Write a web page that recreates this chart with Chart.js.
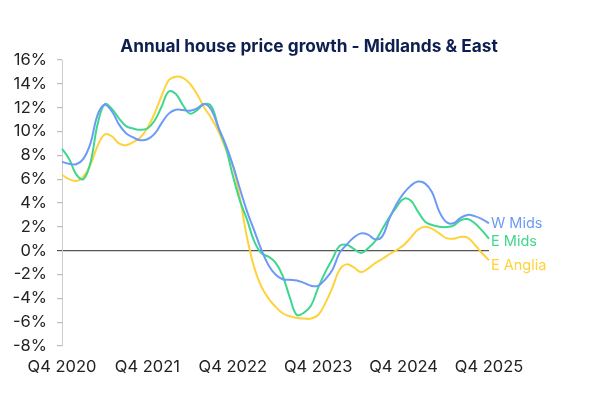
<!DOCTYPE html>
<html>
<head>
<meta charset="utf-8">
<script src="https://cdn.jsdelivr.net/npm/chart.js@4"></script>
<style>
  html, body { margin: 0; padding: 0; background: #fff; }
  #wrap { width: 595px; height: 406px; position: relative; }
</style>
</head>
<body>
<div id="wrap"><canvas id="chart"></canvas></div>
<script>
// Monthly points, Q4 2020 .. Q4 2025 (61 months)
const tickLabels = ['Q4 2020', 'Q4 2021', 'Q4 2022', 'Q4 2023', 'Q4 2024', 'Q4 2025'];
const months = Array.from({ length: 61 }, (_, i) => i);

const wMids = [
  7.45, 7.3, 7.25, 7.7, 9.0, 11.4, 12.25, 11.7, 10.6, 9.85, 9.5, 9.27,
  9.35, 9.8, 10.7, 11.5, 11.82, 11.8, 11.75, 11.95, 12.3, 11.8, 10.3, 8.9,
  7.2, 5.2, 3.3, 1.7, 0.1, -1.2, -2.0, -2.4, -2.45, -2.5, -2.7, -2.95,
  -2.95, -2.4, -1.6, -0.2, 0.5, 1.1, 1.45, 1.35, 0.95, 1.2, 2.7, 3.9,
  4.8, 5.45, 5.8, 5.65, 4.9, 3.3, 2.4, 2.3, 2.75, 3.0, 2.9, 2.65, 2.3
];
const eMids = [
  8.55, 7.7, 6.4, 6.0, 7.4, 10.6, 12.3, 11.9, 11.1, 10.45, 10.25, 10.14,
  10.25, 10.9, 12.1, 13.35, 13.15, 12.2, 11.5, 11.8, 12.3, 12.1, 10.3, 8.7,
  6.3, 4.2, 2.6, 0.8, -0.2, -0.5, -1.0, -2.1, -3.9, -5.4, -5.2, -4.6,
  -3.1, -1.8, -0.7, 0.4, 0.5, 0.15, -0.2, 0.2, 0.8, 1.8, 2.8, 3.66,
  4.35, 4.2, 3.3, 2.45, 2.15, 2.0, 1.98, 2.1, 2.55, 2.65, 2.3, 1.7, 1.0
];
const eAnglia = [
  6.37, 6.0, 5.85, 6.2, 7.2, 8.8, 9.75, 9.6, 9.0, 8.85, 9.1, 9.5,
  10.3, 11.5, 13.0, 14.3, 14.6, 14.5, 14.0, 13.1, 12.0, 11.1, 10.0, 8.55,
  7.1, 4.4, 1.1, -1.4, -3.0, -4.0, -4.7, -5.25, -5.5, -5.65, -5.7, -5.7,
  -5.4, -4.4, -3.1, -1.6, -1.15, -1.4, -1.8, -1.5, -1.05, -0.7, -0.3, 0.05,
  0.45, 1.1, 1.75, 2.0, 1.85, 1.45, 1.05, 1.0, 1.15, 1.1, 0.5, -0.2, -0.8
];

const seriesNames = ['W Mids', 'E Mids', 'E Anglia'];
const seriesColors = ['#6c9af6', '#3fd68d', '#ffd23a'];
const labelNudge = [0, 2.5, 5];   // keep end labels apart

const FONT = 'Inter, Lato, sans-serif';

// Title + end-of-line labels
const annotate = {
  id: 'annotate',
  afterDatasetsDraw(chart) {
    const ctx = chart.ctx;
    ctx.save();
    ctx.font = 'bold 17.3px ' + FONT;
    ctx.fillStyle = '#0e1f4f';
    ctx.textAlign = 'center';
    ctx.textBaseline = 'middle';
    ctx.fillText('Annual house price growth - Midlands & East', 309, 47);

    ctx.font = '14.5px ' + FONT;
    ctx.textAlign = 'left';
    chart.data.datasets.forEach((ds, i) => {
      const pts = chart.getDatasetMeta(i).data;
      const last = pts[pts.length - 1];
      ctx.fillStyle = seriesColors[i];
      ctx.fillText(seriesNames[i], last.x + 2, last.y + labelNudge[i]);
    });
    ctx.restore();
  }
};

const ctx = document.getElementById('chart').getContext('2d');
new Chart(ctx, {
  type: 'line',
  data: {
    labels: months,
    datasets: [wMids, eMids, eAnglia].map((vals, i) => ({
      label: seriesNames[i],
      data: vals,
      borderColor: seriesColors[i],
      backgroundColor: seriesColors[i],
      borderWidth: 2,
      pointRadius: 0,
      tension: 0.4,
      fill: false
    }))
  },
  options: {
    responsive: true,
    maintainAspectRatio: false,
    animation: false,
    layout: { padding: { top: 60, right: 106, left: 0, bottom: 0 } },
    plugins: {
      legend: { display: false },
      tooltip: { enabled: false }
    },
    scales: {
      x: {
        grid: { display: false },
        border: { display: false },
        ticks: {
          autoSkip: false,
          maxRotation: 0,
          padding: 3,
          color: '#222',
          font: { family: FONT, size: 16.5 },
          callback: (val, i) => (i % 12 === 0 ? tickLabels[i / 12] : null)
        },
        afterFit: s => { s.height = 60; }
      },
      y: {
        min: -8,
        max: 16,
        ticks: {
          stepSize: 2,
          padding: 10,
          color: '#222',
          font: { family: FONT, size: 16.5 },
          callback: v => v + '%'
        },
        grid: {
          drawOnChartArea: true,
          tickLength: 5,
          lineWidth: 1.2,
          color: c => (c.tick && c.tick.value === 0 ? '#555' : 'rgba(0,0,0,0)'),
          tickColor: c => (c.tick && c.tick.value === 0 ? '#555' : '#bbb')
        },
        border: { display: true, color: '#ccc', width: 1 },
        afterFit: s => { s.width = 62; }
      }
    }
  },
  plugins: [annotate]
});
</script>
</body>
</html>
